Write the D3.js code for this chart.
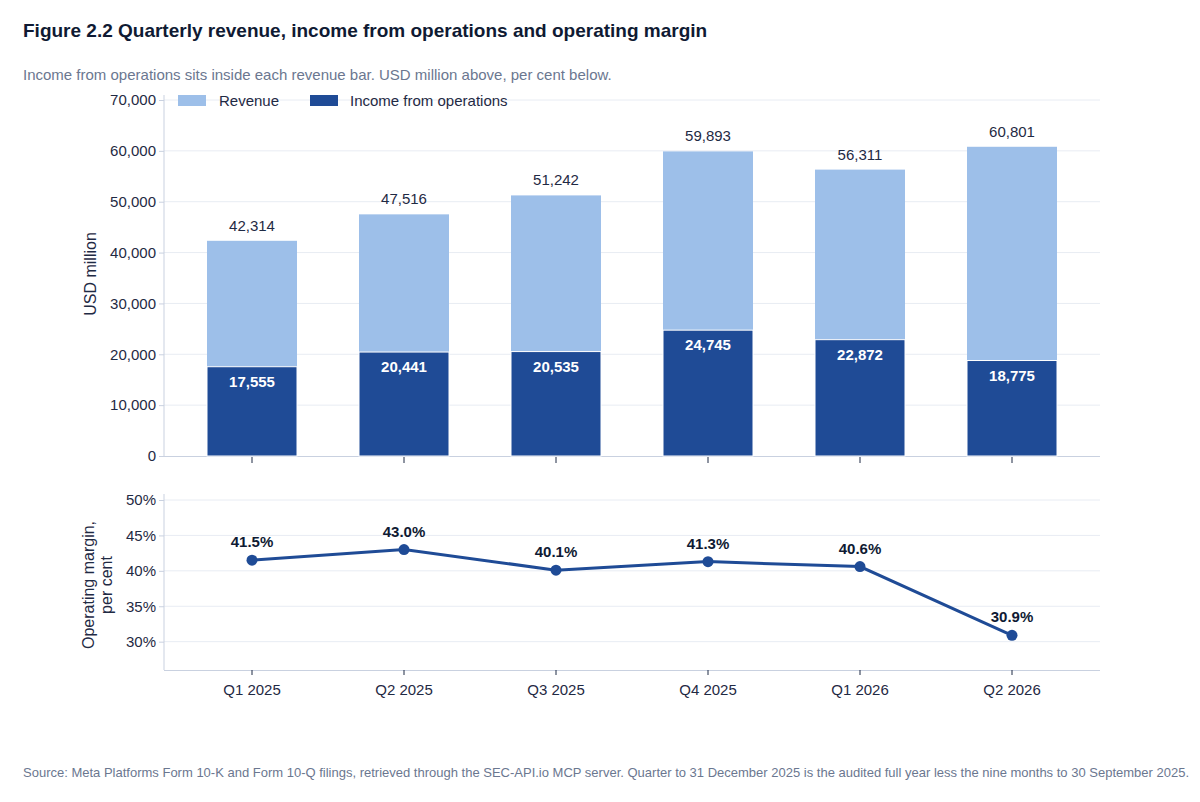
<!DOCTYPE html>
<html><head><meta charset="utf-8">
<script src="https://cdn.jsdelivr.net/npm/d3@7"></script>
<style>body{margin:0;background:#fff;font-family:"Liberation Sans",Arial,sans-serif}</style>
</head><body><svg id="c" width="1200" height="802"></svg>
<script>
const quarters=["Q1 2025","Q2 2025","Q3 2025","Q4 2025","Q1 2026","Q2 2026"];
const revenue=[42314,47516,51242,59893,56311,60801];
const income=[17555,20441,20535,24745,22872,18775];
const margin=[41.5,43.0,40.1,41.3,40.6,30.9];
const revTicks=[0,10000,20000,30000,40000,50000,60000,70000];
const marTicks=[30,35,40,45,50];

const svg=d3.select("#c");
const txt="#1f2a44", grid="#e8ecf3", axc="#c9d1e0", light="#9dbfe9", dark="#1f4b96";
svg.append("text").attr("x",23).attr("y",37).attr("font-size",19).attr("font-weight","bold").attr("fill","#0f1a33")
 .text("Figure 2.2  Quarterly revenue, income from operations and operating margin");
svg.append("text").attr("x",23).attr("y",80).attr("font-size",15).attr("fill","#6b7790")
 .text("Income from operations sits inside each revenue bar. USD million above, per cent below.");
svg.append("text").attr("x",23).attr("y",777).attr("font-size",13).attr("fill","#6b7790")
 .text("Source: Meta Platforms Form 10-K and Form 10-Q filings, retrieved through the SEC-API.io MCP server. Quarter to 31 December 2025 is the audited full year less the nine months to 30 September 2025.");

const x=d3.scaleBand().domain(quarters).range([176,1088]);
const cx=q=>x(q)+x.bandwidth()/2, bw=90;
const L=164,R=1100;
// top panel
const y=d3.scaleLinear().domain([0,70000]).range([456,100]);
const g=svg.append("g");
revTicks.forEach(t=>{ if(t>0) g.append("line").attr("x1",L).attr("x2",R).attr("y1",y(t)).attr("y2",y(t)).attr("stroke",grid);});
const ya=svg.append("g").attr("transform",`translate(${L},0)`).call(d3.axisLeft(y).tickValues(revTicks).tickFormat(d3.format(",")).tickSize(5));
ya.select(".domain").attr("stroke",axc).attr("d",`M0,${y(0)}V95`);
ya.selectAll(".tick line").attr("stroke",axc);
ya.selectAll("text").attr("font-size",15).attr("fill",txt).attr("font-family","Liberation Sans, Arial");
svg.append("line").attr("x1",L).attr("x2",R).attr("y1",456.5).attr("y2",456.5).attr("stroke",axc);
quarters.forEach((q,i)=>{
 svg.append("rect").attr("x",cx(q)-bw/2).attr("width",bw).attr("y",y(revenue[i])).attr("height",y(0)-y(revenue[i])).attr("fill",light);
 svg.append("rect").attr("x",cx(q)-bw/2).attr("width",bw).attr("y",y(income[i])).attr("height",y(0)-y(income[i])).attr("fill",dark).attr("stroke","#fff").attr("stroke-width",1);
 svg.append("text").attr("x",cx(q)).attr("y",y(revenue[i])-10).attr("text-anchor","middle").attr("font-size",15).attr("fill",txt).text(d3.format(",")(revenue[i]));
 svg.append("text").attr("x",cx(q)).attr("y",y(income[i])+20).attr("text-anchor","middle").attr("font-size",15).attr("font-weight","bold").attr("fill","#fff").text(d3.format(",")(income[i]));
 svg.append("line").attr("x1",cx(q)).attr("x2",cx(q)).attr("y1",457).attr("y2",463).attr("stroke",txt);
});
svg.append("text").attr("transform","translate(96,274) rotate(-90)").attr("text-anchor","middle").attr("font-size",16).attr("fill",txt).text("USD million");
// legend
svg.append("rect").attr("x",178).attr("y",95).attr("width",28).attr("height",11).attr("fill",light);
svg.append("text").attr("x",219).attr("y",106).attr("font-size",15).attr("fill",txt).text("Revenue");
svg.append("rect").attr("x",310).attr("y",95).attr("width",28).attr("height",11).attr("fill",dark);
svg.append("text").attr("x",350).attr("y",106).attr("font-size",15).attr("fill",txt).text("Income from operations");
// bottom panel
const y2=d3.scaleLinear().domain([26,50]).range([670,500]);
marTicks.forEach(t=>svg.append("line").attr("x1",L).attr("x2",R).attr("y1",y2(t)).attr("y2",y2(t)).attr("stroke",grid));
const ya2=svg.append("g").attr("transform",`translate(${L},0)`).call(d3.axisLeft(y2).tickValues(marTicks).tickFormat(d=>d+"%").tickSize(5));
ya2.select(".domain").attr("stroke",axc).attr("d",`M0,670V494`);
ya2.selectAll(".tick line").attr("stroke",axc);
ya2.selectAll("text").attr("font-size",15).attr("fill",txt).attr("font-family","Liberation Sans, Arial");
svg.append("line").attr("x1",L).attr("x2",R).attr("y1",670.5).attr("y2",670.5).attr("stroke",axc);
const xa=svg.append("g").attr("transform","translate(0,670)").call(d3.axisBottom(x).tickSize(5));
xa.select(".domain").remove();
xa.selectAll(".tick line").attr("stroke",txt);
xa.selectAll("text").attr("font-size",15).attr("fill",txt).attr("dy","1.1em").attr("font-family","Liberation Sans, Arial");
const line=d3.line().x((d,i)=>cx(quarters[i])).y(d=>y2(d));
svg.append("path").attr("d",line(margin)).attr("fill","none").attr("stroke",dark).attr("stroke-width",3);
margin.forEach((m,i)=>{
 svg.append("circle").attr("cx",cx(quarters[i])).attr("cy",y2(m)).attr("r",5.5).attr("fill",dark);
 svg.append("text").attr("x",cx(quarters[i])).attr("y",y2(m)-13).attr("text-anchor","middle").attr("font-size",15).attr("font-weight","bold").attr("fill","#0f1a33").text(m.toFixed(1)+"%");
});
const lab=svg.append("text").attr("transform","translate(94,585) rotate(-90)").attr("text-anchor","middle").attr("font-size",16).attr("fill",txt);
lab.append("tspan").attr("x",0).attr("dy",0).text("Operating margin,");
lab.append("tspan").attr("x",0).attr("dy",18).text("per cent");
</script></body></html>
